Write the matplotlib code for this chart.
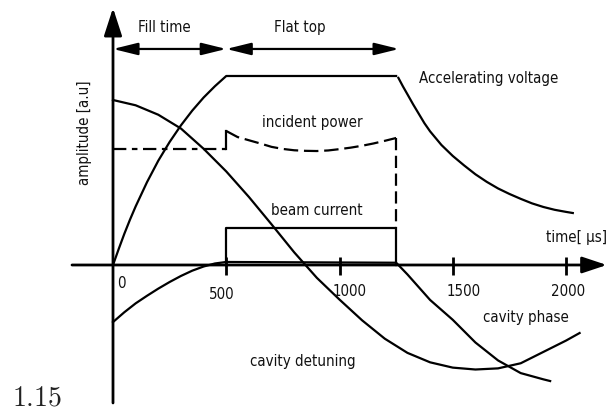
import matplotlib
matplotlib.use("Agg")
import matplotlib.pyplot as plt
from matplotlib import font_manager
from matplotlib.font_manager import FontProperties

# ---------------- data ----------------
# accelerating voltage: filling, flat top, decay
volt_fill_t = [0, 25, 50, 75, 100, 150, 200, 250, 300, 350, 400, 450, 500, 1250]
volt_fill_a = [0.0, 0.084, 0.165, 0.240, 0.310, 0.438, 0.552, 0.651, 0.739, 0.817, 0.886,
               0.946, 1.0, 1.0]
volt_decay_t = [1260, 1280, 1300, 1325, 1350, 1375, 1400, 1450, 1500, 1550, 1600, 1650, 1700,
                1750, 1800, 1850, 1900, 1950, 2000, 2030]
volt_decay_a = [0.99, 0.945, 0.903, 0.850, 0.800, 0.750, 0.707, 0.635, 0.577, 0.527, 0.480,
                0.440, 0.405, 0.376, 0.350, 0.326, 0.307, 0.292, 0.281, 0.275]

# incident power
pin_fill_t = [0, 500]
pin_fill_a = [0.614, 0.614]
pin_jump_t = [500, 500]
pin_jump_a = [0.614, 0.709]
pin_flat_t = [500, 550, 600, 650, 700, 750, 800, 850, 900, 950, 1000, 1050, 1100, 1150, 1200, 1250]
pin_flat_a = [0.709, 0.677, 0.660, 0.643, 0.625, 0.614, 0.607, 0.604, 0.603, 0.606, 0.613,
              0.621, 0.631, 0.643, 0.657, 0.672]
pin_off_t = [1250, 1250]
pin_off_a = [0.672, 0.196]

# beam current pulse
beam_t = [500, 500, 1250, 1250]
beam_a = [0.0, 0.196, 0.196, 0.0]

# cavity phase
phase_t = [0, 100, 200, 300, 400, 500, 600, 700, 800, 900, 1000, 1100, 1200, 1300, 1400,
           1500, 1600, 1700, 1800, 1900, 2000, 2060]
phase_a = [0.873, 0.845, 0.795, 0.722, 0.615, 0.495, 0.36, 0.215, 0.067, -0.068, -0.183,
           -0.293, -0.39, -0.465, -0.515, -0.543, -0.553, -0.547, -0.52, -0.46, -0.40, -0.36]

# cavity detuning
detune_t = [0, 50, 100, 150, 200, 250, 300, 350, 400, 450, 500, 1250, 1260, 1300, 1400,
            1500, 1600, 1700, 1800, 1900, 1930]
detune_a = [-0.302, -0.25, -0.203, -0.163, -0.125, -0.09, -0.058, -0.03, -0.008, 0.008,
            0.016, 0.012, 0.0, -0.05, -0.185, -0.29, -0.41, -0.505, -0.572, -0.605, -0.614]

tick_vals = [500, 1000, 1500, 2000]
tick_labels = ["500", "1000", "1500", "2000"]

# ---------------- font: prefer a condensed sans if one is installed ----------------
cond = None
for f in font_manager.fontManager.ttflist:
    nm = (f.name + " " + f.fname).lower()
    if ("narrow" in nm or "condensed" in nm) and "bold" not in nm and "oblique" not in nm \
            and "italic" not in nm and "mono" not in nm and "serif" not in f.name.lower():
        cond = f.fname
        break
if cond is not None:
    FP = FontProperties(fname=cond)
else:
    FP = FontProperties(family=["Liberation Sans", "DejaVu Sans"])

LW = 1.6
plt.rcParams["mathtext.fontset"] = "cm"

fig = plt.figure(figsize=(6.08, 4.15), dpi=100)
ax = fig.add_axes([0, 0, 1, 1])
ax.set_xlim(-498.9, 2185.4)
ax.set_ylim(-0.7937, 1.4021)
ax.axis("off")

# calibrate font size from the width of the widest label
renderer = fig.canvas.get_renderer()
probe = ax.text(0, 0, "Accelerating voltage", fontproperties=FP, fontsize=10)
w10 = probe.get_window_extent(renderer).width
probe.remove()
FS = min(14.0, 10.0 * 140.0 / w10)

# axes with arrows
ax.annotate("", xy=(0, 1.360), xytext=(0, -0.730),
            arrowprops=dict(arrowstyle="-|>,head_length=1.7,head_width=0.55", color="k",
                            lw=2.0, shrinkA=0, shrinkB=0, mutation_scale=10))
ax.annotate("", xy=(2180, 0), xytext=(-181, 0),
            arrowprops=dict(arrowstyle="-|>,head_length=1.5,head_width=0.5", color="k",
                            lw=2.0, shrinkA=0, shrinkB=0, mutation_scale=10))
for tv in tick_vals:
    ax.plot([tv, tv], [-0.053, 0.042], color="k", lw=2.0, solid_capstyle="butt")

# dimension arrows
for t0, t1 in [(0, 500), (500, 1263)]:
    ax.annotate("", xy=(t1, 1.143), xytext=(t0, 1.143),
                arrowprops=dict(arrowstyle="<|-|>,head_length=1.5,head_width=0.37",
                                color="k", lw=LW, shrinkA=0, shrinkB=0, mutation_scale=10))

# curves
ax.plot(volt_fill_t, volt_fill_a, color="k", lw=LW)
ax.plot(volt_decay_t, volt_decay_a, color="k", lw=LW)
ax.plot(pin_fill_t, pin_fill_a, color="k", lw=LW, dashes=(6, 2.5, 2.5, 2.5))
ax.plot(pin_jump_t, pin_jump_a, color="k", lw=LW)
ax.plot(pin_flat_t, pin_flat_a, color="k", lw=LW, dashes=(6.5, 2.6))
ax.plot(pin_off_t, pin_off_a, color="k", lw=LW, dashes=(5.5, 2.5))
ax.plot(beam_t, beam_a, color="k", lw=LW)
ax.plot(phase_t, phase_a, color="k", lw=LW)
ax.plot(detune_t, detune_a, color="k", lw=LW)

# texts
def put(x, y, s, **kw):
    ax.text(x, y, s, fontproperties=FP, fontsize=FS, color="#111111", **kw)

put(225, 1.233, "Fill time", ha="center", va="baseline")
put(826, 1.233, "Flat top", ha="center", va="baseline")
put(1351, 0.963, "Accelerating voltage", ha="left", va="baseline")
put(879, 0.730, "incident power", ha="center", va="baseline")
put(901, 0.265, "beam current", ha="center", va="baseline")
put(2180, 0.122, "time[ \u00b5s]", ha="right", va="baseline")
put(18, -0.122, "0", ha="left", va="baseline")
label_dx = [-19, 46, 50, 9]
label_y = [-0.18, -0.164, -0.164, -0.164]
for tv, lab, dx, ly in zip(tick_vals, tick_labels, label_dx, label_y):
    put(tv + dx, ly, lab, ha="center", va="baseline")
put(1823, -0.302, "cavity phase", ha="center", va="baseline")
put(839, -0.534, "cavity detuning", ha="center", va="baseline")
put(-128, 0.701, "amplitude [a.u]", rotation=90, ha="center", va="center")
ax.text(-446, -0.741, r"$1.15$", ha="left", va="baseline", fontsize=20, color="#222222")

fig.savefig("out.png", dpi=100)
